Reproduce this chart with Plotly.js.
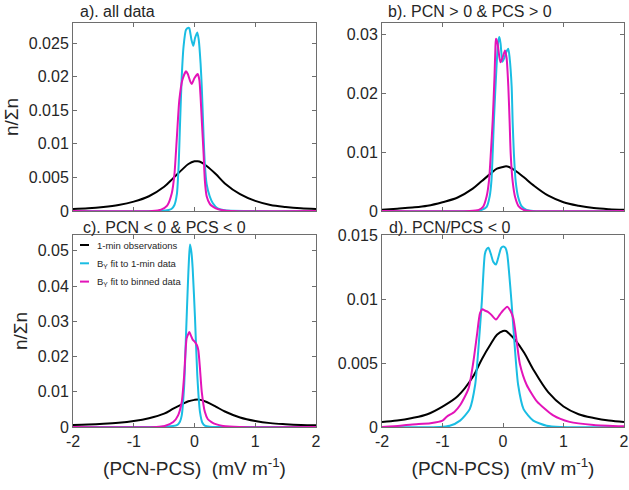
<!DOCTYPE html>
<html>
<head>
<meta charset="utf-8">
<script src="https://cdn.plot.ly/plotly-3.0.1.min.js"></script>
<style>html,body{margin:0;padding:0;background:#fff;}#chart{width:629px;height:490px;}</style>
</head>
<body>
<div id="chart"></div>
<script>
// ---------- data ----------
const seriesNames = ["1-min observations", "B<sub>Y</sub> fit to 1-min data", "B<sub>Y</sub> fit to binned data"];
const panelTitles = ["a). all data", "b). PCN &gt; 0 & PCS &gt; 0", "c). PCN &lt; 0 & PCS &lt; 0", "d). PCN/PCS &lt; 0"];

const xTickVals = [-2, -1, 0, 1, 2];
const xTickText = ["-2", "-1", "0", "1", "2"];

const yTickValsA = [0, 0.005, 0.01, 0.015, 0.02, 0.025];
const yTickTextA = ["0", "0.005", "0.01", "0.015", "0.02", "0.025"];
const yTickValsB = [0, 0.01, 0.02, 0.03];
const yTickTextB = ["0", "0.01", "0.02", "0.03"];
const yTickValsC = [0, 0.01, 0.02, 0.03, 0.04, 0.05];
const yTickTextC = ["0", "0.01", "0.02", "0.03", "0.04", "0.05"];
const yTickValsD = [0, 0.005, 0.01, 0.015];
const yTickTextD = ["0", "0.005", "0.01", "0.015"];

// black: 1-min observations
const obsX = [-2, -1.75, -1.5, -1.25, -1, -0.75, -0.5, -0.35, -0.2, -0.1, 0, 0.05, 0.1, 0.2, 0.35, 0.5, 0.75, 1, 1.25, 1.5, 1.75, 2];
const obsA = [0.0003, 0.0004, 0.0006, 0.0009, 0.0014, 0.0022, 0.0036, 0.0049, 0.0062, 0.0070, 0.0074, 0.0074, 0.0073, 0.0067, 0.0055, 0.0041, 0.0025, 0.0015, 0.0009, 0.0006, 0.0004, 0.0003];
const obsB = [0.0002, 0.0004, 0.0006, 0.0009, 0.0015, 0.0023, 0.0038, 0.0051, 0.0064, 0.0072, 0.0075, 0.0076, 0.0075, 0.0069, 0.0057, 0.0044, 0.0026, 0.0015, 0.0009, 0.0005, 0.0003, 0.0002];
const obsC = [0.0006, 0.0007, 0.0009, 0.0012, 0.0017, 0.0025, 0.0038, 0.0052, 0.0065, 0.0073, 0.0077, 0.0078, 0.0077, 0.0071, 0.0058, 0.0044, 0.0027, 0.0017, 0.0011, 0.0008, 0.0006, 0.0005];
const obsD = [0.0004, 0.0005, 0.0007, 0.0010, 0.0016, 0.0024, 0.0039, 0.0053, 0.0065, 0.0072, 0.0075, 0.0075, 0.0073, 0.0068, 0.0058, 0.0045, 0.0027, 0.0016, 0.0010, 0.0007, 0.0005, 0.0004];

// cyan: BY fit to 1-min data
const fitMinXA = [-2, -0.6, -0.45, -0.38, -0.33, -0.29, -0.26, -0.24, -0.21, -0.18, -0.14, -0.1, -0.085, -0.05, -0.02, 0.01, 0.046, 0.07, 0.1, 0.12, 0.15, 0.17, 0.2, 0.25, 0.3, 0.38, 0.5, 2];
const fitMinA = [0, 0, 0.0001, 0.0003, 0.0009, 0.0025, 0.007, 0.0125, 0.02, 0.0245, 0.027, 0.0273, 0.0272, 0.0255, 0.0246, 0.0258, 0.0266, 0.0255, 0.022, 0.0184, 0.011, 0.007, 0.004, 0.0022, 0.0012, 0.0004, 0.0001, 0];
const fitMinXB = [-2, -0.45, -0.35, -0.27, -0.22, -0.19, -0.17, -0.15, -0.11, -0.08, -0.06, -0.04, -0.01, 0.02, 0.06, 0.088, 0.11, 0.143, 0.16, 0.18, 0.21, 0.25, 0.31, 0.39, 0.5, 2];
const fitMinB = [0, 0, 0.0002, 0.0007, 0.0025, 0.0053, 0.01, 0.0155, 0.024, 0.0288, 0.0296, 0.0285, 0.0254, 0.026, 0.0272, 0.0276, 0.026, 0.0212, 0.015, 0.0098, 0.005, 0.0024, 0.0008, 0.0002, 0, 0];
const fitMinXC = [-2, -0.6, -0.5, -0.4, -0.29, -0.24, -0.21, -0.17, -0.14, -0.11, -0.09, -0.074, -0.05, -0.03, 0.008, 0.046, 0.09, 0.13, 0.17, 0.25, 0.37, 2];
const fitMinC = [0, 0, 0.0001, 0.0002, 0.0005, 0.0015, 0.0033, 0.0118, 0.026, 0.040, 0.048, 0.0518, 0.0495, 0.045, 0.031, 0.0147, 0.0043, 0.0012, 0.0004, 0.0001, 0, 0];
const fitMinXD = [-2, -1.05, -0.88, -0.71, -0.55, -0.46, -0.41, -0.35, -0.3, -0.27, -0.24, -0.2, -0.16, -0.116, -0.08, -0.03, 0.005, 0.04, 0.07, 0.14, 0.2, 0.25, 0.34, 0.5, 0.72, 0.95, 2];
const fitMinD = [0, 0, 0.0001, 0.0005, 0.0014, 0.0033, 0.0059, 0.0098, 0.0135, 0.0139, 0.0140, 0.0135, 0.0129, 0.0127, 0.0132, 0.0140, 0.0141, 0.0140, 0.0135, 0.0098, 0.0059, 0.0033, 0.0014, 0.0005, 0.0001, 0, 0];

// magenta: BY fit to binned data
const fitBinXA = [-2, -0.7, -0.55, -0.45, -0.375, -0.33, -0.29, -0.25, -0.2, -0.14, -0.11, -0.07, -0.046, 0, 0.053, 0.08, 0.1, 0.12, 0.15, 0.17, 0.2, 0.25, 0.28, 0.35, 0.47, 0.6, 2];
const fitBinA = [0, 0, 0.0002, 0.0008, 0.0026, 0.0055, 0.011, 0.0165, 0.0195, 0.0208, 0.0204, 0.0193, 0.0189, 0.0198, 0.0204, 0.0195, 0.017, 0.0135, 0.0085, 0.0046, 0.0022, 0.0011, 0.0008, 0.0004, 0.0001, 0, 0];
const fitBinXB = [-2, -0.55, -0.4, -0.33, -0.27, -0.23, -0.2, -0.17, -0.14, -0.125, -0.116, -0.09, -0.06, -0.04, -0.01, 0.033, 0.06, 0.088, 0.11, 0.127, 0.16, 0.2, 0.26, 0.34, 0.45, 2];
const fitBinB = [0, 0, 0.0002, 0.0007, 0.0025, 0.0053, 0.01, 0.0155, 0.023, 0.028, 0.0293, 0.0285, 0.0262, 0.0253, 0.026, 0.0273, 0.026, 0.0212, 0.015, 0.0098, 0.005, 0.0024, 0.0008, 0.0002, 0, 0];
const fitBinXC = [-2, -0.63, -0.49, -0.35, -0.27, -0.21, -0.17, -0.13, -0.1, -0.085, -0.06, -0.03, 0.008, 0.04, 0.063, 0.09, 0.12, 0.17, 0.22, 0.28, 0.35, 0.47, 0.74, 2];
const fitBinC = [0, 0, 0.0003, 0.0014, 0.0033, 0.0071, 0.0147, 0.0251, 0.0265, 0.027, 0.026, 0.0248, 0.0241, 0.0232, 0.0218, 0.0166, 0.0099, 0.0043, 0.0022, 0.0014, 0.0008, 0.0003, 0, 0];
const fitBinXD = [-2, -1.7, -1.5, -1.2, -1, -0.93, -0.8, -0.71, -0.57, -0.49, -0.43, -0.38, -0.34, -0.3, -0.25, -0.2, -0.116, -0.05, 0, 0.07, 0.12, 0.17, 0.226, 0.28, 0.39, 0.56, 0.83, 1.1, 1.5, 2];
const fitBinD = [0, 0.0001, 0.0002, 0.0003, 0.0005, 0.0008, 0.0012, 0.0017, 0.003, 0.0051, 0.0072, 0.0089, 0.0092, 0.0091, 0.0090, 0.0088, 0.0084, 0.0088, 0.0091, 0.0094, 0.0091, 0.0085, 0.0067, 0.0049, 0.0033, 0.002, 0.0009, 0.0004, 0.00016, 0.00005];

// ---------- styling ----------
const colObs = "#000000";
const colMin = "#1ABDE3";
const colBin = "#E314B9";
const FONT = "Liberation Sans, Arial, sans-serif";
const TXT = "#262626";
const AX = "#6e6e6e";

const panels = [
  {obs: obsA, minX: fitMinXA, min: fitMinA, binX: fitBinXA, bin: fitBinA},
  {obs: obsB, minX: fitMinXB, min: fitMinB, binX: fitBinXB, bin: fitBinB},
  {obs: obsC, minX: fitMinXC, min: fitMinC, binX: fitBinXC, bin: fitBinC},
  {obs: obsD, minX: fitMinXD, min: fitMinD, binX: fitBinXD, bin: fitBinD}
];

const traces = [];
panels.forEach((p, i) => {
  const xa = i === 0 ? "x" : "x" + (i + 1);
  const ya = i === 0 ? "y" : "y" + (i + 1);
  const showLeg = i === 2;
  traces.push({x: obsX, y: p.obs, xaxis: xa, yaxis: ya, type: "scatter", mode: "lines",
    line: {color: colObs, width: 2, shape: "spline", smoothing: 1}, name: seriesNames[0], showlegend: showLeg, legendrank: 1});
  traces.push({x: p.minX, y: p.min, xaxis: xa, yaxis: ya, type: "scatter", mode: "lines",
    line: {color: colMin, width: 2, shape: "spline", smoothing: 0.6}, name: seriesNames[1], showlegend: showLeg, legendrank: 2});
  traces.push({x: p.binX, y: p.bin, xaxis: xa, yaxis: ya, type: "scatter", mode: "lines",
    line: {color: colBin, width: 2, shape: "spline", smoothing: 0.6}, name: seriesNames[2], showlegend: showLeg, legendrank: 3});
});

const W = 629, H = 490;
const dom = {
  xl: [73 / W, 316 / W], xr: [382 / W, 624 / W],
  yt: [1 - 211 / H, 1 - 23 / H], yb: [1 - 427 / H, 1 - 235 / H]
};

function xAxis(d, anchor, labels) {
  const a = {domain: d, anchor: anchor, range: [-2, 2], tickvals: xTickVals, ticktext: xTickText,
    showticklabels: labels, ticks: "inside", ticklen: 4, tickcolor: AX, tickwidth: 1,
    showline: true, linecolor: AX, linewidth: 1, mirror: "ticks", showgrid: false, zeroline: false,
    tickfont: {family: FONT, size: 16, color: TXT}};
  if (labels) {
    a.title = {text: "(PCN-PCS)\u00a0\u00a0(mV m<sup>-1</sup>)", font: {family: FONT, size: 19, color: TXT}, standoff: 12};
  }
  return a;
}
function yAxis(d, anchor, range, vals, text, title) {
  const a = {domain: d, anchor: anchor, range: range, tickvals: vals, ticktext: text,
    ticks: "inside", ticklen: 4, tickcolor: AX, tickwidth: 1,
    showline: true, linecolor: AX, linewidth: 1, mirror: "ticks", showgrid: false, zeroline: false,
    tickfont: {family: FONT, size: 16, color: TXT}};
  if (title) {
    a.title = {text: "n/\u03a3n", font: {family: FONT, size: 19, color: TXT}, standoff: 5};
  }
  return a;
}

const layout = {
  width: W, height: H,
  margin: {l: 0, r: 0, t: 0, b: 0},
  paper_bgcolor: "#ffffff", plot_bgcolor: "#ffffff",
  font: {family: FONT, color: TXT},
  showlegend: true,
  legend: {x: 57 / W, y: 1 - 232 / H, xanchor: "left", yanchor: "top", bgcolor: "rgba(0,0,0,0)",
    font: {family: FONT, size: 9.5, color: TXT}, itemwidth: 30, tracegroupgap: 0, traceorder: "normal"},
  xaxis: xAxis(dom.xl, "y", false),
  yaxis: yAxis(dom.yt, "x", [0, 0.028], yTickValsA, yTickTextA, true),
  xaxis2: xAxis(dom.xr, "y2", false),
  yaxis2: yAxis(dom.yt, "x2", [0, 0.032], yTickValsB, yTickTextB, false),
  xaxis3: xAxis(dom.xl, "y3", true),
  yaxis3: yAxis(dom.yb, "x3", [0, 0.0545], yTickValsC, yTickTextC, true),
  xaxis4: xAxis(dom.xr, "y4", true),
  yaxis4: yAxis(dom.yb, "x4", [0, 0.015], yTickValsD, yTickTextD, false),
  annotations: [
    {text: panelTitles[0], x: 78 / W, y: 1 - 12 / H},
    {text: panelTitles[1], x: 386 / W, y: 1 - 12 / H},
    {text: panelTitles[2], x: 81 / W, y: 1 - 227 / H},
    {text: panelTitles[3], x: 387 / W, y: 1 - 227 / H}
  ].map(a => Object.assign(a, {xref: "paper", yref: "paper", xanchor: "left", yanchor: "middle",
    showarrow: false, font: {family: FONT, size: 16, color: TXT}}))
};

Plotly.newPlot("chart", traces, layout, {staticPlot: true, displayModeBar: false}).then(gd => {
  // shorten the legend line samples to match the reference's short dashes
  const items = gd.querySelectorAll(".legend .traces");
  items.forEach((g, i) => {
    g.querySelectorAll(".legendlines path").forEach(p => p.setAttribute("d", "M23,0h9"));
    g.setAttribute("transform", "translate(0," + (13 + i * 18.3).toFixed(1) + ")");
  });
});
</script>
</body>
</html>
